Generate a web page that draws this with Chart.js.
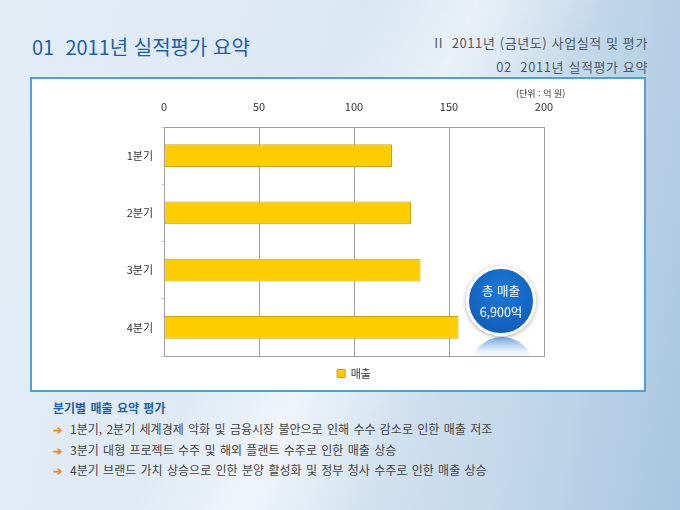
<!DOCTYPE html>
<html lang="ko">
<head>
<meta charset="utf-8">
<script src="https://cdn.jsdelivr.net/npm/chart.js@4.4.1/dist/chart.umd.min.js"></script>
<style>
  html, body { margin: 0; padding: 0; }
  body {
    width: 680px; height: 510px; overflow: hidden; position: relative;
    font-family: "Noto Sans CJK KR", "Noto Sans", sans-serif;
    background:
      linear-gradient(115deg, rgba(255,255,255,0) 0%, rgba(255,255,255,0) 40%, rgba(255,255,255,0.55) 52%, rgba(255,255,255,0) 66%),
      linear-gradient(100deg, #e4edf6 0%, #dce8f3 45%, #c5d9eb 75%, #a9c6e0 100%);
  }
  .title { position: absolute; left: 32px; top: 32px; font-size: 20px; color: #1f5fa8; white-space: pre; }
  .sub1 { position: absolute; right: 32px; top: 33px; font-size: 13px; letter-spacing: 0.6px; color: #505a66; white-space: pre; }
  .sub2 { position: absolute; right: 32px; top: 57px; font-size: 13px; letter-spacing: 0.6px; color: #505a66; white-space: pre; }
  .box {
    position: absolute; left: 30px; top: 77px; width: 612px; height: 311px;
    background: #fff; border: 2px solid #4ea3d6;
  }
  #chart { position: absolute; left: 33px; top: 80px; }
  .unit { position: absolute; left: 516px; top: 87px; font-size: 9px; color: #333; }
  .bubble {
    position: absolute; left: 466px; top: 266px; width: 64px; border-radius: 50%;
    background: radial-gradient(circle at 50% 35%, #1f78d6 0%, #1262be 70%, #0f56a8 100%);
    border: 3px solid #fff; box-shadow: 0 1px 4px rgba(0,0,0,0.35);
    color: #fff; text-align: center; font-size: 12.5px; line-height: 21px; padding-top: 11px; height: 53px;
  }
  .reflect {
    position: absolute; left: 470px; top: 337px; width: 64px; height: 19px; overflow: hidden;
  }
  .reflect div {
    width: 64px; height: 64px; border-radius: 50%;
    background: linear-gradient(to bottom, rgba(30,110,200,0.6) 0%, rgba(160,200,240,0.25) 22%, rgba(255,255,255,0) 32%);
  }
  .notes { position: absolute; left: 53px; top: 399px; font-size: 12px; word-spacing: 1px; color: #444; }
  .notes .head { color: #1f5fa8; font-weight: bold; margin-bottom: 4px; }
  .notes .row { height: 20.5px; white-space: pre; }
  .notes .arr { color: #f08a1c; font-weight: bold; margin-right: 8px; font-size: 11px; }
</style>
</head>
<body>
<div class="title">01  2011년 실적평가 요약</div>
<div class="sub1">II  2011년 (금년도) 사업실적 및 평가</div>
<div class="sub2">02  2011년 실적평가 요약</div>
<div class="box"></div>
<canvas id="chart" width="610" height="309"></canvas>
<div class="unit">(단위 : 억 원)</div>
<div class="reflect"><div></div></div>
<div class="bubble">총 매출<br>6,900억</div>
<div class="notes">
  <div class="head">분기별 매출 요약 평가</div>
  <div class="row"><span class="arr">➔</span>1분기, 2분기 세계경제 악화 및 금융시장 불안으로 인해 수수 감소로 인한 매출 저조</div>
  <div class="row"><span class="arr">➔</span>3분기 대형 프로젝트 수주 및 해외 플랜트 수주로 인한 매출 상승</div>
  <div class="row"><span class="arr">➔</span>4분기 브랜드 가치 상승으로 인한 분양 활성화 및 정부 청사 수주로 인한 매출 상승</div>
</div>
<script>
// data
const quarters = ['1분기', '2분기', '3분기', '4분기'];
const sales = [120, 130, 135, 155];
const seriesName = '매출';
const axisMin = 0;
const axisMax = 200;
const axisStep = 50;

const tickFont = { family: "'Noto Sans CJK KR', sans-serif", size: 11 };

// grey frame round the plot area
const plotFrame = {
  id: 'plotFrame',
  afterDraw(chart) {
    const { ctx, chartArea: a } = chart;
    ctx.save();
    ctx.strokeStyle = '#a0a0a0';
    ctx.lineWidth = 1;
    ctx.strokeRect(Math.round(a.left) + 0.5, Math.round(a.top) + 0.5,
      Math.round(a.right - a.left), Math.round(a.bottom - a.top));
    ctx.restore();
  }
};

const ctx = document.getElementById('chart').getContext('2d');
new Chart(ctx, {
  type: 'bar',
  data: {
    labels: quarters,
    datasets: [{
      label: seriesName,
      data: sales,
      backgroundColor: '#ffcc00',
      borderColor: '#c9a21a',
      borderWidth: 1,
      borderSkipped: false,
      barPercentage: 0.4,
      categoryPercentage: 1
    }]
  },
  plugins: [plotFrame],
  options: {
    indexAxis: 'y',
    responsive: false,
    animation: false,
    layout: { padding: { left: 0, right: 99, top: 0, bottom: 0 } },
    plugins: {
      tooltip: { enabled: false },
      legend: {
        position: 'bottom',
        fullSize: false,
        labels: {
          boxWidth: 8, boxHeight: 8, padding: 12,
          color: '#333', font: tickFont
        }
      }
    },
    scales: {
      x: {
        position: 'top',
        min: axisMin, max: axisMax,
        ticks: { stepSize: axisStep, color: '#333', font: tickFont, padding: 14 },
        grid: { color: '#a0a0a0', drawTicks: false },
        border: { color: '#a0a0a0' },
        afterFit: s => { s.height = 47; }
      },
      y: {
        ticks: { color: '#333', font: tickFont, padding: 8 },
        grid: {
          offset: true,
          tickLength: 3,
          color: 'rgba(0,0,0,0)',
          tickColor: '#d0d0d0'
        },
        border: { color: '#a0a0a0' },
        afterFit: s => { s.width = 131; }
      }
    }
  }
});
</script>
</body>
</html>
